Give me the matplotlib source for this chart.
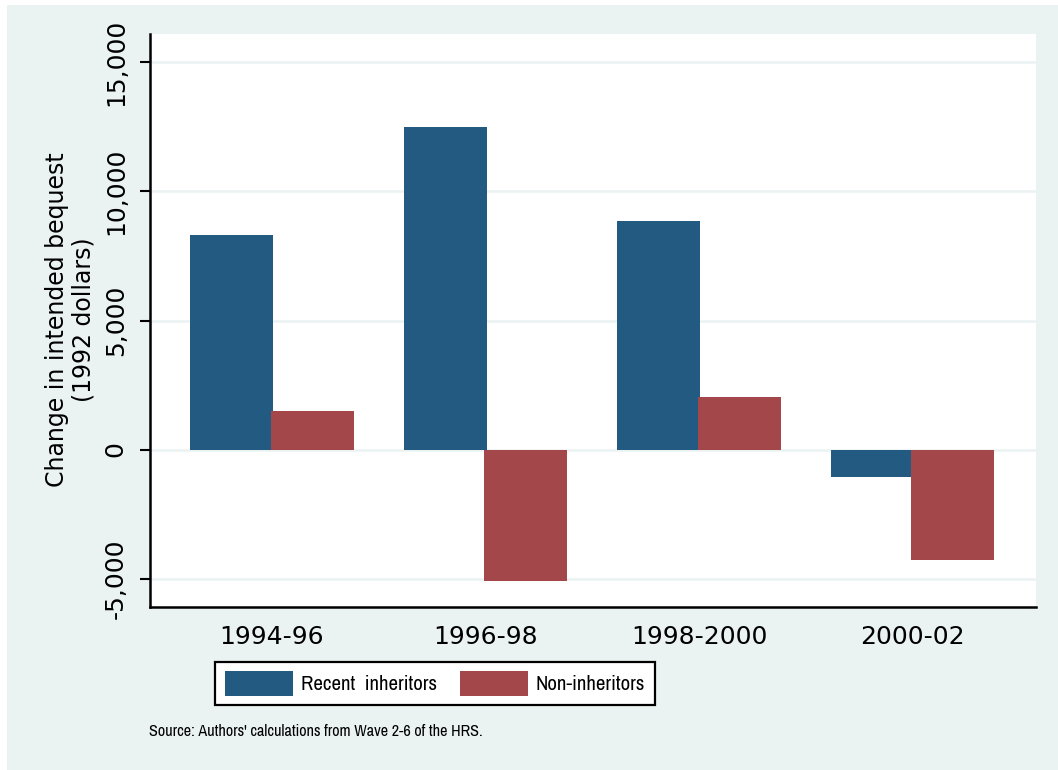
import matplotlib
matplotlib.use("Agg")
import matplotlib.pyplot as plt
from matplotlib import font_manager
from matplotlib.patches import Rectangle
import numpy as np

# data
periods = ["1994-96", "1996-98", "1998-2000", "2000-02"]
recent_inheritors = [8330, 12480, 8840, -1070]
non_inheritors = [1510, -5100, 2030, -4290]
yticks = [-5000, 0, 5000, 10000, 15000]
ytick_labels = ["-5,000", "0", "5,000", "10,000", "15,000"]

BLUE = "#235A82"
RED = "#A3474B"
BG = "#EAF3F2"

# the legend and note use a condensed face in the original; take one if installed
installed = sorted({f.name for f in font_manager.fontManager.ttflist})
narrow_names = [n for n in installed if "Narrow" in n or "Condensed" in n]
if narrow_names:
    narrow = [narrow_names[0], "DejaVu Sans"]
    leg_size, note_size = 15, 11.6
else:
    narrow = ["Liberation Sans", "DejaVu Sans"]
    leg_size, note_size = 12.5, 9.6

fig = plt.figure(figsize=(10.58, 7.70), dpi=100, facecolor=BG)
# thin white strip on the left and top edge
fig.patches.append(Rectangle((0, 0), 7 / 1058, 1, transform=fig.transFigure,
                             facecolor="white", edgecolor="none", zorder=-10))
fig.patches.append(Rectangle((0, 1 - 5 / 770), 1, 5 / 770, transform=fig.transFigure,
                             facecolor="white", edgecolor="none", zorder=-10))

ax = fig.add_axes([150 / 1058, 1 - 607 / 770, (1036 - 150) / 1058, (607 - 34) / 770])
ax.set_facecolor("white")

x = np.arange(len(periods))
w = 0.389
off = 0.1885
ax.bar(x - off, recent_inheritors, width=w, color=BLUE, label="Recent  inheritors", zorder=3)
ax.bar(x + off, non_inheritors, width=w, color=RED, label="Non-inheritors", zorder=3)

ax.set_xlim(-0.571, 3.578)
ax.set_ylim(-6100, 16100)

ax.set_yticks(yticks)
ax.set_yticklabels(ytick_labels, rotation=90, va="center", fontsize=18)
ax.set_xticks(x)
ax.set_xticklabels(periods, fontsize=18)
ax.tick_params(axis="x", length=0, pad=13)
ax.tick_params(axis="y", length=7, width=1.5, pad=9, direction="out")

ax.grid(axis="y", color=BG, linewidth=1.8, zorder=0)
ax.set_axisbelow(True)

for s in ["top", "right"]:
    ax.spines[s].set_visible(False)
for s in ["left", "bottom"]:
    ax.spines[s].set_linewidth(1.8)
    ax.spines[s].set_color("black")

fig.text(70 / 1058, 1 - 320 / 770, "Change in intended bequest\n(1992 dollars)",
         rotation=90, ha="center", va="center", fontsize=17, linespacing=1.15,
         multialignment="center")

px = leg_size * 100 / 72
leg = fig.legend(loc="center", bbox_to_anchor=(435 / 1058, 1 - 683.5 / 770), ncol=2,
                 prop={"family": narrow, "size": leg_size}, handlelength=68 / px,
                 handleheight=30 / px, handletextpad=8 / px, columnspacing=23 / px,
                 borderpad=0.45, fancybox=False, frameon=True, framealpha=1)
leg.get_frame().set_edgecolor("black")
leg.get_frame().set_linewidth(1.6)

fig.text(149 / 1058, 1 - 731 / 770, "Source: Authors' calculations from Wave 2-6 of the HRS.",
         ha="left", va="center", fontsize=note_size, family=narrow)

fig.savefig("out.png", dpi=100, facecolor=fig.get_facecolor())
